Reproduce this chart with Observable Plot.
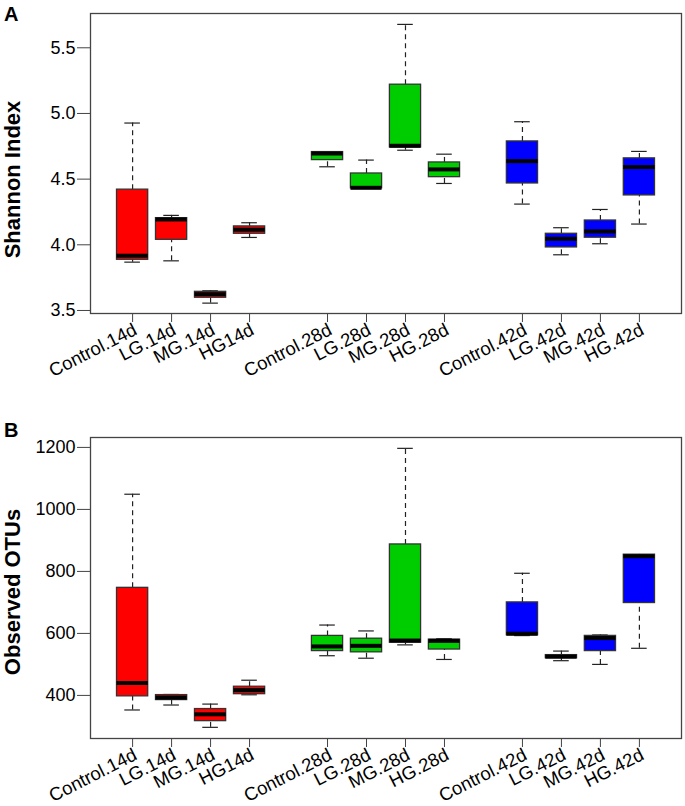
<!DOCTYPE html>
<html>
<head>
<meta charset="utf-8">
<script src="https://cdn.jsdelivr.net/npm/d3@7"></script>
<script src="https://cdn.jsdelivr.net/npm/@observablehq/plot@0.6"></script>
<style>
  html, body { margin: 0; padding: 0; background: #fff; }
  #wrap { position: relative; width: 685px; height: 806px; font-family: "Liberation Sans", Arial, sans-serif; }
  .panel { position: absolute; left: 0; }
  .letter { position: absolute; left: 4px; font-weight: bold; font-size: 20px; line-height: 20px; color: #000; }
</style>
</head>
<body>
<div id="wrap">
  <div class="panel" id="panelA" style="top:0px"></div>
  <div class="panel" id="panelB" style="top:380px"></div>
  <div class="letter" style="top:4px">A</div>
  <div class="letter" style="top:420px">B</div>
</div>
<script>
// Categories
const labels = ["Control.14d","LG.14d","MG.14d","HG14d","Control.28d","LG.28d","MG.28d","HG.28d","Control.42d","LG.42d","MG.42d","HG.42d"];
const days = ["14d","14d","14d","14d","28d","28d","28d","28d","42d","42d","42d","42d"];
const dayColors = {"14d": "#FF0000", "28d": "#00CD00", "42d": "#0000FF"};

// Panel A: Shannon Index
const shannonLow    = [3.868, 3.878, 3.556, 4.056, 4.594, 4.430, 4.720, 4.467, 4.310, 3.924, 4.008, 4.158];
const shannonQ1     = [3.886, 4.038, 3.597, 4.084, 4.645, 4.430, 4.741, 4.515, 4.467, 3.980, 4.054, 4.376];
const shannonMedian = [3.917, 4.193, 3.624, 4.115, 4.695, 4.434, 4.754, 4.574, 4.637, 4.046, 4.102, 4.592];
const shannonQ3     = [4.420, 4.203, 3.642, 4.140, 4.706, 4.543, 5.219, 4.627, 4.787, 4.084, 4.185, 4.658];
const shannonHigh   = [4.927, 4.224, 3.650, 4.168, 4.706, 4.645, 5.678, 4.690, 4.937, 4.130, 4.269, 4.711];
const shannonTicks  = [3.5, 4.0, 4.5, 5.0, 5.5];

// Panel B: Observed OTUs
const otuLow    = [353, 369, 297, 402, 528, 520, 563, 516, 593, 512, 500, 552];
const otuQ1     = [397, 385, 317, 404, 543, 539, 570, 548, 594, 520, 543, 698];
const otuMedian = [440, 393, 339, 417, 558, 560, 577, 576, 599, 525, 585, 849];
const otuQ3     = [747, 401, 356, 428, 592, 583, 887, 580, 700, 530, 592, 854];
const otuHigh   = [1049, 403, 372, 449, 627, 608, 1197, 583, 794, 543, 595, 854];
const otuTicks  = [400, 600, 800, 1000, 1200];

// group slot: 4 boxes per group with a gap of one slot between groups
const slot = (i) => i + 1 + Math.floor(i / 4);

function rowsFrom(low, q1, med, q3, high) {
  return labels.map((label, i) => ({
    label, pos: slot(i), color: dayColors[days[i]],
    low: low[i], q1: q1[i], median: med[i], q3: q3[i], high: high[i]
  }));
}

const positions = labels.map((l, i) => slot(i));

function boxPlot(rows, {height, marginTop, marginBottom, yDomain, yTicks, yFormat, yLabel, labelDy}) {
  const half = 0.4, cap = 0.2;
  return Plot.plot({
    width: 685,
    height,
    marginLeft: 90,
    marginRight: 4,
    marginTop,
    marginBottom,
    style: {fontFamily: "'Liberation Sans', Arial, sans-serif", fontSize: "18px", color: "#000", background: "#fff"},
    x: {type: "linear", domain: [-0.08, 15.08]},
    y: {domain: yDomain},
    color: {type: "identity"},
    marks: [
      Plot.ruleX(rows, {x: "pos", y1: "q3", y2: "high", stroke: "#222", strokeWidth: 1.2, strokeDasharray: "5,4"}),
      Plot.ruleX(rows, {x: "pos", y1: "low", y2: "q1", stroke: "#222", strokeWidth: 1.2, strokeDasharray: "5,4"}),
      Plot.ruleY(rows, {y: "high", x1: d => d.pos - cap, x2: d => d.pos + cap, stroke: "#222", strokeWidth: 1.2}),
      Plot.ruleY(rows, {y: "low", x1: d => d.pos - cap, x2: d => d.pos + cap, stroke: "#222", strokeWidth: 1.2}),
      Plot.rect(rows, {x1: d => d.pos - half, x2: d => d.pos + half, y1: "q1", y2: "q3", fill: "color", stroke: "#333", strokeWidth: 1.3}),
      Plot.ruleY(rows, {y: "median", x1: d => d.pos - half, x2: d => d.pos + half, stroke: "#000", strokeWidth: 4}),
      Plot.frame({stroke: "#444", strokeWidth: 1.3}),
      Plot.axisY({ticks: yTicks, tickFormat: yFormat, tickSize: 13, tickPadding: 2, fontSize: 18, label: null, stroke: "#444"}),
      Plot.axisX({ticks: positions, tickFormat: () => "", tickSize: 9, label: null, stroke: "#444"}),
      Plot.text(rows, {x: "pos", text: "label", frameAnchor: "bottom", rotate: -27, textAnchor: "end", lineAnchor: "middle", dx: 3, dy: 15, fontSize: 18.5}),
      Plot.text([yLabel], {text: d => d, frameAnchor: "left", textAnchor: "middle", dx: -78, dy: labelDy, rotate: -90, fontWeight: "bold", fontSize: 22})
    ]
  });
}

document.getElementById("panelA").appendChild(boxPlot(
  rowsFrom(shannonLow, shannonQ1, shannonMedian, shannonQ3, shannonHigh),
  {height: 380, marginTop: 13, marginBottom: 67, yDomain: [3.477, 5.761], yTicks: shannonTicks, yFormat: d3.format(".1f"), yLabel: "Shannon Index", labelDy: 16}
));

document.getElementById("panelB").appendChild(boxPlot(
  rowsFrom(otuLow, otuQ1, otuMedian, otuQ3, otuHigh),
  {height: 426, marginTop: 57, marginBottom: 68, yDomain: [261, 1232], yTicks: otuTicks, yFormat: d => String(d), yLabel: "Observed OTUs", labelDy: 4}
));
</script>
</body>
</html>
